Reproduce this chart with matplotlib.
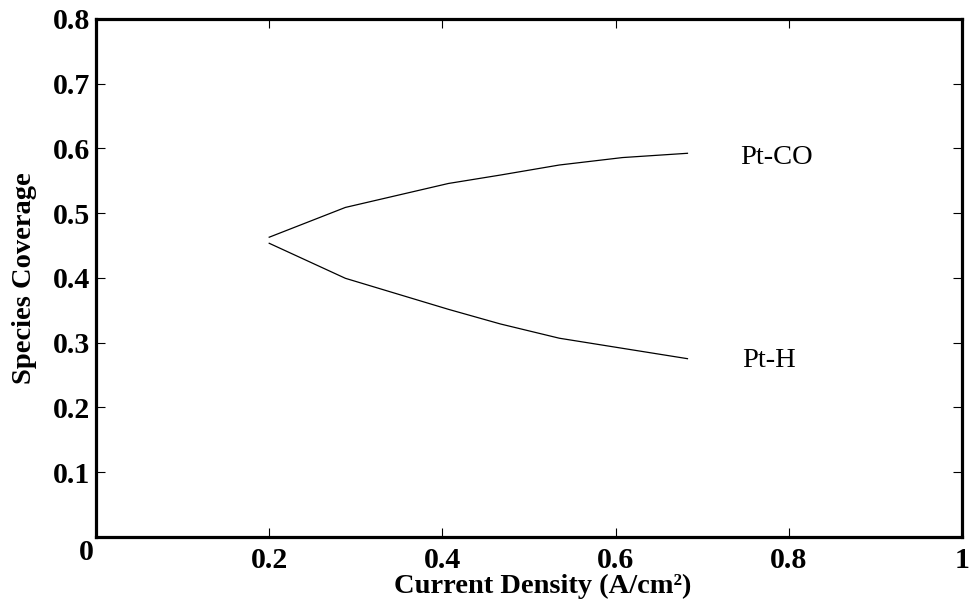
import numpy as np
import matplotlib
matplotlib.use('Agg')
import matplotlib.pyplot as plt

# current density (A/cm2) and surface coverage
current_density = [0.2, 0.288, 0.407, 0.467, 0.535, 0.608, 0.683]
pt_co = [0.463, 0.509, 0.546, 0.559, 0.5745, 0.586, 0.5926]
pt_h = [0.4536, 0.3995, 0.3516, 0.329, 0.307, 0.2914, 0.2754]

x_ticks = [0, 0.2, 0.4, 0.6, 0.8, 1.0]
x_tick_labels = ['', '0.2', '0.4', '0.6', '0.8', '1']
y_ticks = [0.1, 0.2, 0.3, 0.4, 0.5, 0.6, 0.7, 0.8]
y_tick_labels = ['0.1', '0.2', '0.3', '0.4', '0.5', '0.6', '0.7', '0.8']

plt.rcParams['font.family'] = ['Liberation Serif', 'DejaVu Serif']

fig = plt.figure(figsize=(9.71, 6.05), dpi=100)
ax = fig.add_axes([0.0989, 0.1124, 0.8918, 0.8562])

ax.plot(current_density, pt_co, color='black', linewidth=0.9)
ax.plot(current_density, pt_h, color='black', linewidth=0.9)

ax.text(0.744, pt_co[-1] - 0.007, 'Pt-CO', fontsize=20.5, va='center', ha='left')
ax.text(0.746, pt_h[-1] - 0.003, 'Pt-H', fontsize=20.5, va='center', ha='left')

ax.set_xlim(0, 1)
ax.set_ylim(0, 0.8)
ax.set_xticks(x_ticks)
ax.set_xticklabels(x_tick_labels, fontsize=21.5, fontweight='bold')
ax.set_yticks(y_ticks)
ax.set_yticklabels(y_tick_labels, fontsize=21.5, fontweight='bold')
ax.tick_params(direction='in', length=6.5, width=0.8, top=True, right=True)
ax.tick_params(axis='x', pad=7)
ax.tick_params(axis='y', pad=4)
# shared origin label sits a little left and up
ax.text(-0.011, -0.029, '0', transform=ax.transAxes, fontsize=21.5, fontweight='bold',
        ha='center', va='center')
for s in ax.spines.values():
    s.set_linewidth(2.3)

ax.set_xlabel('Current Density (A/cm²)', fontsize=20.5, fontweight='bold')
ax.set_ylabel('Species Coverage', fontsize=20.5, fontweight='bold')
ax.xaxis.set_label_coords(0.516, -0.071)
ax.yaxis.set_label_coords(-0.068, 0.5)

fig.savefig('out.png', dpi=100)
